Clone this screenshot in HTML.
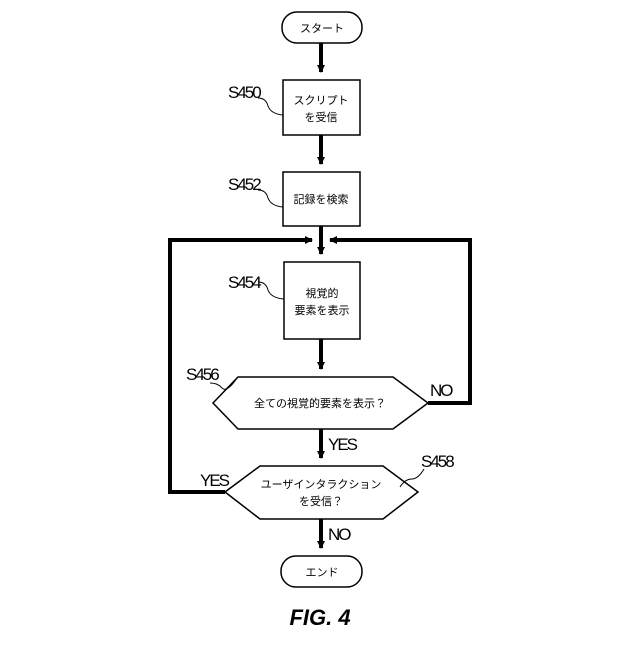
<!DOCTYPE html><html><head><style>body{margin:0;background:#fff}</style></head><body>
<svg width="640" height="640" xmlns="http://www.w3.org/2000/svg" font-family="'Liberation Sans','Noto Sans CJK JP',sans-serif">
<defs><marker id="a" markerWidth="8" markerHeight="8" refX="7" refY="4" orient="auto" markerUnits="userSpaceOnUse"><path d="M0,0 L8,4 L0,8z" fill="#000"/></marker></defs>
<g fill="#fff" stroke="#000" stroke-width="1.5">
<rect x="282" y="12" width="80" height="31" rx="15"/>
<rect x="283" y="80" width="77" height="55"/>
<rect x="283" y="172" width="77" height="54"/>
<rect x="284" y="262" width="76" height="77"/>
<polygon points="213,403 238,377 393,377 428,403 393,429 238,429"/>
<polygon points="225,492 260,466 383,466 418,492 383,519 260,519"/>
<rect x="281" y="556" width="81" height="31" rx="15"/>
</g>
<g stroke="#000" stroke-width="4" fill="none">
<line x1="321" y1="43" x2="321" y2="72" marker-end="url(#a)"/>
<line x1="321" y1="135" x2="321" y2="164" marker-end="url(#a)"/>
<line x1="321" y1="226" x2="321" y2="254" marker-end="url(#a)"/>
<line x1="321" y1="339" x2="321" y2="369" marker-end="url(#a)"/>
<line x1="321" y1="429" x2="321" y2="458" marker-end="url(#a)"/>
<line x1="321" y1="519" x2="321" y2="548" marker-end="url(#a)"/>
<polyline points="428,403 470,403 470,240 330,240" marker-end="url(#a)"/>
<polyline points="225,492 170,492 170,240 312,240" marker-end="url(#a)"/>
</g>
<g stroke="#000" stroke-width="1" fill="none">
<path d="M258,98 q8,0 10,8 q3,8 15,9"/>
<path d="M258,190 q8,0 10,8 q3,8 15,9"/>
<path d="M258,282 q8,0 10,8 q3,8 16,9"/>
<path d="M210,383 q8,0 12,5 q5,5 15,-10"/>
<path d="M400,487 q5,-8 12,-8 q6,0 12,-10"/>
</g>
<g font-size="11" text-anchor="middle">
<text x="322" y="32">スタート</text>
<text x="321" y="104">スクリプト</text><text x="321" y="121">を受信</text>
<text x="321" y="203">記録を検索</text>
<text x="322" y="297">視覚的</text><text x="322" y="314">要素を表示</text>
<text x="320" y="407">全ての視覚的要素を表示？</text>
<text x="321" y="488">ユーザインタラクション</text><text x="321" y="505">を受信？</text>
<text x="322" y="576">エンド</text>
</g>
<g font-size="17" letter-spacing="-2">
<text x="228" y="98">S450</text>
<text x="228" y="190">S452</text>
<text x="228" y="288">S454</text>
<text x="186" y="380">S456</text>
<text x="421" y="467">S458</text>
<text x="430" y="396">NO</text>
<text x="328" y="450">YES</text>
<text x="200" y="486">YES</text>
<text x="328" y="540">NO</text>
</g>
<text x="320" y="625" font-size="22" font-weight="bold" font-style="italic" text-anchor="middle">FIG. 4</text>
</svg></body></html>
